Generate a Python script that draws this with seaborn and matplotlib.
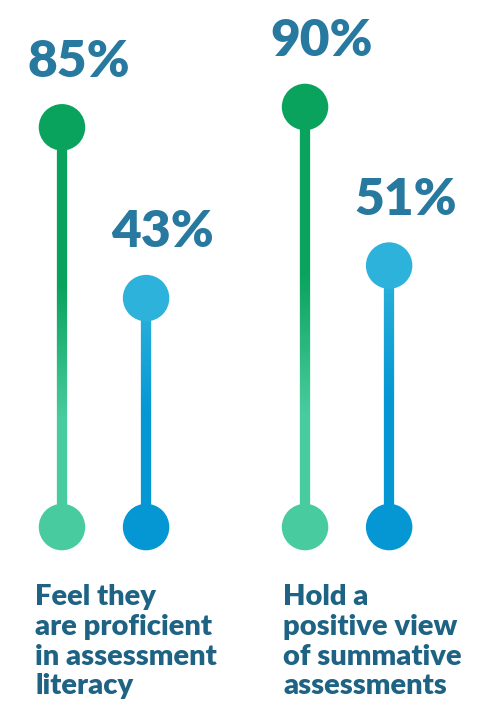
import matplotlib
matplotlib.use("Agg")
import matplotlib.pyplot as plt
import numpy as np
import pandas as pd
import seaborn as sns
from matplotlib.collections import LineCollection
from matplotlib.colors import LinearSegmentedColormap

# data
group_labels = [
    "Feel they\nare proficient\nin assessment\nliteracy",
    "Hold a\npositive view\nof summative\nassessments",
]
series_names = ["proficient", "positive"]
green_values = [85, 90]
blue_values = [43, 51]

# styles
TOP_COLORS = {"green": "#0AA35E", "blue": "#2DB2DB"}
BOTTOM_COLORS = {"green": "#48CB9E", "blue": "#0497D3"}
NUM_COLOR = "#27799F"
LABEL_COLOR = "#1E6384"
BASELINE = -13.3
OFFSET = 0.173

sns.set_theme(style="white")
plt.rcParams["font.family"] = ["Lato", "DejaVu Sans"]

rows = []
for gi, (g, b) in enumerate(zip(green_values, blue_values)):
    rows.append({"group": gi, "kind": "green", "x": gi - OFFSET, "value": g})
    rows.append({"group": gi, "kind": "blue", "x": gi + OFFSET, "value": b})
df = pd.DataFrame(rows)

fig = plt.figure(figsize=(4.9, 7.06), dpi=100)
ax = fig.add_axes([0, 0, 1, 1])

# gradient stems
cmaps = {
    "green": LinearSegmentedColormap.from_list(
        "g", [(0, "#48CB9E"), (0.27, "#48CB9E"), (0.6, "#0AA35E"), (1, "#0AA35E")]),
    "blue": LinearSegmentedColormap.from_list(
        "b", [(0, "#0497D3"), (0.5, "#0497D3"), (1, "#2DB2DB")]),
}
for _, r in df.iterrows():
    ys = np.linspace(BASELINE, r["value"], 120)
    segs = [[(r["x"], ys[i]), (r["x"], ys[i + 1])] for i in range(len(ys) - 1)]
    t = np.linspace(0, 1, len(segs))
    lc = LineCollection(segs, colors=cmaps[r["kind"]](t), linewidths=7.4,
                        capstyle="butt", zorder=1)
    ax.add_collection(lc)

bottom = df.assign(value=BASELINE)
sns.scatterplot(data=bottom, x="x", y="value", hue="kind", palette=BOTTOM_COLORS,
                s=1120, linewidth=0, legend=False, ax=ax, zorder=3)
sns.scatterplot(data=df, x="x", y="value", hue="kind", palette=TOP_COLORS,
                s=1120, linewidth=0, legend=False, ax=ax, zorder=3)

for _, r in df.iterrows():
    ax.annotate(f"{r['value']}%", xy=(r["x"], r["value"]), xytext=(12, 36.5),
                textcoords="offset points", ha="center", va="baseline",
                fontsize=37, fontweight="heavy", color=NUM_COLOR)

for gi, lab in enumerate(group_labels):
    dx = -69 if gi == 0 else -64
    ax.annotate(lab, xy=(gi, BASELINE), xytext=(dx * 0.72, -41),
                textcoords="offset points", ha="left", va="top",
                fontsize=21, fontweight="heavy", color=LABEL_COLOR,
                linespacing=1.18)

ax.set_xlim(-0.428, 1.588)
ax.set_ylim(-57.3, 116.3)
ax.axis("off")

fig.savefig("out.png", dpi=100)
